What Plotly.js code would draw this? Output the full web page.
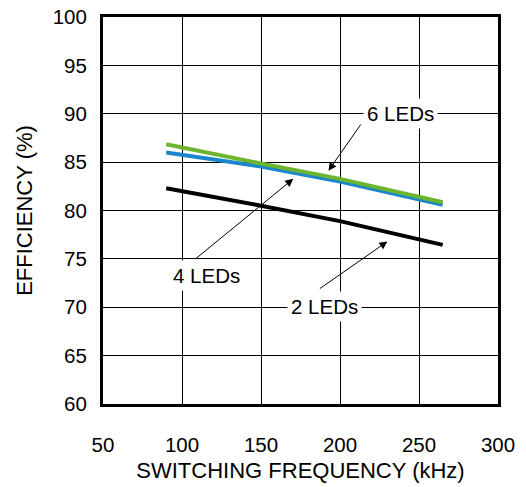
<!DOCTYPE html>
<html>
<head>
<meta charset="utf-8">
<script src="https://cdn.plot.ly/plotly-3.0.1.min.js"></script>
<style>html,body{margin:0;padding:0;background:#fff;}#chart{width:526px;height:487px;}</style>
</head>
<body>
<div id="chart"></div>
<script>
// Data
const freqKHz = [90, 100, 130, 150, 200, 265];
const eff2LEDs = [82.3, 82.0, 81.2, 80.5, 78.9, 76.45];
const eff4LEDs = [86.0, 85.75, 85.05, 84.55, 83.0, 80.6];
const eff6LEDs = [86.85, 86.5, 85.5, 84.85, 83.27, 80.86];
const seriesNames = ['2 LEDs', '4 LEDs', '6 LEDs'];
const xTicks = [50, 100, 150, 200, 250, 300];
const yTicks = [60, 65, 70, 75, 80, 85, 90, 95, 100];

const FONT = 'Arial, "Liberation Sans", sans-serif';
const TICK = 20.5, TITLE = 22;

const traces = [
  {x: freqKHz, y: eff2LEDs, name: seriesNames[0], mode: 'lines', line: {color: '#000000', width: 4}},
  {x: freqKHz, y: eff4LEDs, name: seriesNames[1], mode: 'lines', line: {color: '#1a86cc', width: 4}},
  {x: freqKHz, y: eff6LEDs, name: seriesNames[2], mode: 'lines', line: {color: '#6cb52e', width: 4}}
];

function label(text, x, y) {
  return {text: text, x: x, y: y, xref: 'x', yref: 'y', showarrow: false,
    bgcolor: '#ffffff', borderpad: 3, font: {family: FONT, size: TICK, color: '#000'}};
}
function arrow(tx, ty, hx, hy) {
  return {text: '', x: hx, y: hy, ax: tx, ay: ty, xref: 'x', yref: 'y', axref: 'x', ayref: 'y',
    showarrow: true, arrowhead: 2, arrowsize: 1.6, arrowwidth: 1, arrowcolor: '#000'};
}

const layout = {
  width: 526, height: 487,
  margin: {l: 103, r: 28, t: 17, b: 83},
  paper_bgcolor: '#fff', plot_bgcolor: '#fff',
  showlegend: false,
  font: {family: FONT, size: TICK, color: '#000'},
  xaxis: {
    range: [50, 300], tickvals: xTicks, ticktext: xTicks.map(String),
    showgrid: true, gridcolor: '#000', gridwidth: 1, zeroline: false,
    showline: true, mirror: true, linecolor: '#000', linewidth: 3,
    ticks: '', ticklabelstandoff: 20,
    tickfont: {family: FONT, size: TICK, color: '#000'},
    title: {text: 'SWITCHING FREQUENCY (kHz)', font: {family: FONT, size: TITLE, color: '#000'}, standoff: 9}
  },
  yaxis: {
    range: [60, 100], tickvals: yTicks, ticktext: yTicks.map(String),
    showgrid: true, gridcolor: '#000', gridwidth: 1, zeroline: false,
    showline: true, mirror: true, linecolor: '#000', linewidth: 3,
    ticks: '', ticklabelstandoff: 9,
    tickfont: {family: FONT, size: TICK, color: '#000'},
    title: {text: 'EFFICIENCY (%)', font: {family: FONT, size: TITLE, color: '#000'}, standoff: 14}
  },
  annotations: [
    arrow(213.8, 89.04, 192.7, 84.12),
    arrow(107.8, 74.9, 170.4, 83.27),
    arrow(186.3, 71.82, 230, 76.8),
    label(seriesNames[2], 238.4, 90.0),
    label(seriesNames[1], 115.2, 73.3),
    label(seriesNames[0], 190, 70.03)
  ]
};

Plotly.newPlot('chart', traces, layout, {displayModeBar: false, staticPlot: true});
</script>
</body>
</html>
